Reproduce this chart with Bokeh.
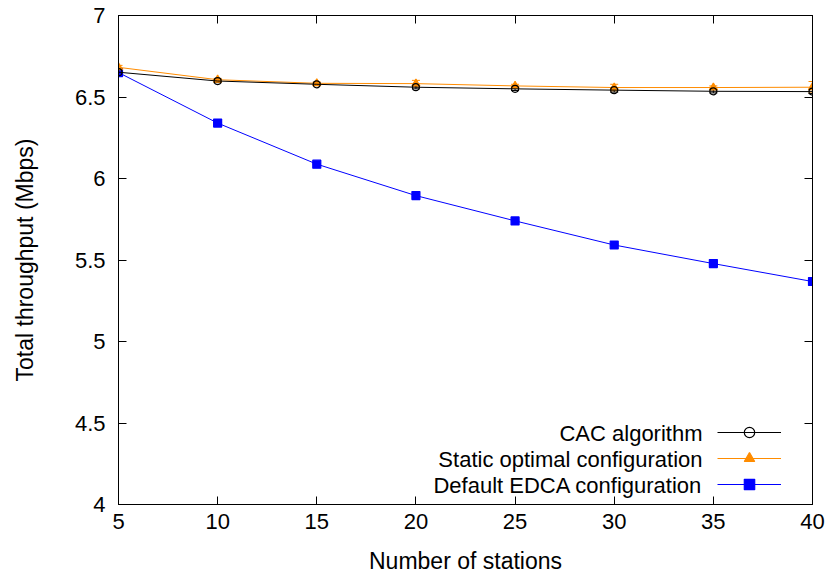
from bokeh.plotting import figure
from bokeh.models import (Range1d, LinearAxis, FixedTicker, Whisker, ColumnDataSource,
                          Legend, LegendItem, Label)
from bokeh.embed import file_html
from bokeh.resources import INLINE

stations = [5, 10, 15, 20, 25, 30, 35, 40]
cac = [6.652, 6.598, 6.578, 6.560, 6.550, 6.542, 6.535, 6.533]
cac_err = [0.008, 0.010, 0.008, 0.010, 0.010, 0.012, 0.010, 0.012]
static_opt = [6.682, 6.606, 6.584, 6.582, 6.568, 6.558, 6.558, 6.560]
static_err = [0.012, 0.008, 0.008, 0.020, 0.010, 0.020, 0.010, 0.035]
default_edca = [6.650, 6.340, 6.088, 5.895, 5.740, 5.592, 5.478, 5.368]
edca_err = [0.004, 0.004, 0.004, 0.004, 0.004, 0.004, 0.004, 0.004]

series_names = ["CAC algorithm", "Static optimal configuration", "Default EDCA configuration"]
x_ticks = [5, 10, 15, 20, 25, 30, 35, 40]
y_ticks = [4, 4.5, 5, 5.5, 6, 6.5, 7]
y_tick_labels = ["4", "4.5", "5", "5.5", "6", "6.5", "7"]

FONT = "Liberation Sans"
FS = "22px"
FS_TITLE = "23px"
ORANGE = "#ff8c00"
BLUE = "#0000ff"

p = figure(width=826, height=576, output_backend="svg", toolbar_location=None,
           x_range=Range1d(5, 40), y_range=Range1d(4, 7),
           min_border_left=118, min_border_right=14, min_border_top=15, min_border_bottom=71)
p.grid.visible = False
p.outline_line_color = "black"
p.outline_line_width = 1

for ax in (p.xaxis[0], p.yaxis[0]):
    ax.major_tick_in = 8
    ax.major_tick_out = 0
    ax.minor_tick_line_color = None
    ax.axis_line_color = "black"
    ax.major_label_text_font = FONT
    ax.major_label_text_font_size = FS
    ax.major_label_text_color = "black"
    ax.axis_label_text_font = FONT
    ax.axis_label_text_font_size = FS_TITLE
    ax.axis_label_text_font_style = "normal"
    ax.axis_label_text_color = "black"

p.xaxis[0].ticker = FixedTicker(ticks=x_ticks)
p.yaxis[0].ticker = FixedTicker(ticks=y_ticks)
p.yaxis[0].major_label_overrides = {t: l for t, l in zip(y_ticks, y_tick_labels)}
p.xaxis[0].axis_label = "Number of stations"
p.yaxis[0].axis_label = "Total throughput (Mbps)"
p.xaxis[0].major_label_standoff = 9
p.yaxis[0].major_label_standoff = 13
p.xaxis[0].axis_label_standoff = 16
p.yaxis[0].axis_label_standoff = 34

# mirrored ticks on top and right (no labels)
top = LinearAxis(ticker=FixedTicker(ticks=x_ticks),
                 major_label_overrides={t: "" for t in x_ticks},
                 major_tick_in=8, major_tick_out=0, minor_tick_line_color=None,
                 major_label_standoff=0)
right = LinearAxis(ticker=FixedTicker(ticks=y_ticks),
                   major_label_overrides={t: "" for t in y_ticks},
                   major_tick_in=8, major_tick_out=0, minor_tick_line_color=None,
                   major_label_standoff=0)
p.add_layout(top, "above")
p.add_layout(right, "right")


def add_series(vals, errs, color, marker, fill, size):
    src = ColumnDataSource(dict(x=stations, y=vals,
                                lo=[v - e for v, e in zip(vals, errs)],
                                hi=[v + e for v, e in zip(vals, errs)]))
    w = Whisker(source=src, base="x", upper="hi", lower="lo", line_color=color, line_width=1)
    w.upper_head.line_color = color
    w.lower_head.line_color = color
    w.upper_head.size = 8
    w.lower_head.size = 8
    p.add_layout(w)
    ln = p.line("x", "y", source=src, line_color=color, line_width=1)
    sc = p.scatter("x", "y", source=src, marker=marker, size=size, line_color=color,
                   fill_color=fill, line_width=1.2)
    return ln, sc


r_edca = add_series(default_edca, edca_err, BLUE, "square", BLUE, 8)
r_static = add_series(static_opt, static_err, ORANGE, "triangle", ORANGE, 8)
r_cac = add_series(cac, cac_err, "black", "circle", None, 7)

# legend: samples only; texts drawn right-aligned to the left of the samples
legend = Legend(items=[LegendItem(label="", renderers=list(r_cac)),
                       LegendItem(label="", renderers=list(r_static)),
                       LegendItem(label="", renderers=list(r_edca))],
                location=(599, 7), orientation="vertical",
                glyph_width=64, glyph_height=26, spacing=0, padding=0, margin=0,
                label_width=0, label_height=0, label_standoff=0,
                background_fill_alpha=0, border_line_alpha=0)
p.add_layout(legend, "center")

for i, name in enumerate(series_names):
    p.add_layout(Label(x=584, y=71 - i * 26, x_units="screen", y_units="screen",
                       text=name, text_align="right", text_baseline="middle",
                       text_font=FONT, text_font_size=FS, text_color="black"))

open("out.html", "w").write(file_html(p, INLINE))
